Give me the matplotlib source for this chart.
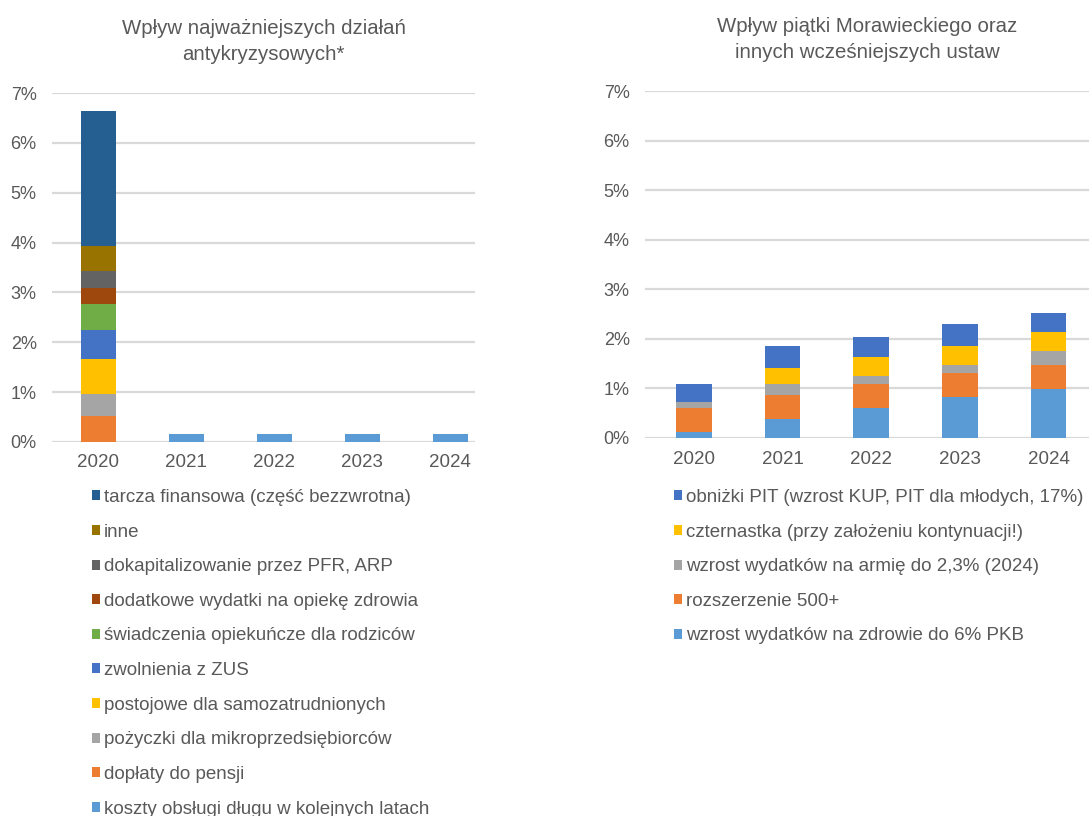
import matplotlib
matplotlib.use('Agg')
import matplotlib.pyplot as plt
from matplotlib.patches import Patch
import numpy as np

plt.rcParams['font.family'] = ['Liberation Sans', 'DejaVu Sans']

years = ['2020', '2021', '2022', '2023', '2024']

# left panel - stacked from bottom
left_labels = ['koszty obsługi długu w kolejnych latach',
               'dopłaty do pensji',
               'pożyczki dla mikroprzedsiębiorców',
               'postojowe dla samozatrudnionych',
               'zwolnienia z ZUS',
               'świadczenia opiekuńcze dla rodziców',
               'dodatkowe wydatki na opiekę zdrowia',
               'dokapitalizowanie przez PFR, ARP',
               'inne',
               'tarcza finansowa (część bezzwrotna)']
left_colors = ['#5B9BD5', '#ED7D31', '#A5A5A5', '#FFC000', '#4472C4',
               '#70AD47', '#9E480E', '#636363', '#997300', '#255E91']
koszty = [0.0, 0.17, 0.17, 0.17, 0.17]
doplaty = [0.52, 0, 0, 0, 0]
pozyczki = [0.44, 0, 0, 0, 0]
postojowe = [0.70, 0, 0, 0, 0]
zwolnienia = [0.58, 0, 0, 0, 0]
swiadczenia = [0.53, 0, 0, 0, 0]
zdrowie_opieka = [0.32, 0, 0, 0, 0]
dokapitalizowanie = [0.34, 0, 0, 0, 0]
inne = [0.51, 0, 0, 0, 0]
tarcza = [2.69, 0, 0, 0, 0]
left_series = [koszty, doplaty, pozyczki, postojowe, zwolnienia, swiadczenia,
               zdrowie_opieka, dokapitalizowanie, inne, tarcza]

# right panel - stacked from bottom
right_labels = ['wzrost wydatków na zdrowie do 6% PKB',
                'rozszerzenie 500+',
                'wzrost wydatków na armię do 2,3% (2024)',
                'czternastka (przy założeniu kontynuacji!)',
                'obniżki PIT (wzrost KUP, PIT dla młodych, 17%)']
right_colors = ['#5B9BD5', '#ED7D31', '#A5A5A5', '#FFC000', '#4472C4']
zdrowie_6 = [0.12, 0.39, 0.60, 0.83, 0.99]
r500 = [0.48, 0.48, 0.49, 0.49, 0.49]
armia = [0.12, 0.22, 0.17, 0.16, 0.27]
czternastka = [0.0, 0.33, 0.38, 0.38, 0.38]
pit = [0.37, 0.44, 0.39, 0.44, 0.39]
right_series = [zdrowie_6, r500, armia, czternastka, pit]

txt = '#595959'
grid = '#D9D9D9'
W, H = 1089, 816
fig = plt.figure(figsize=(W / 100, H / 100), dpi=100)


def panel(rect, series, labels, colors, xlim, title, leg_x):
    ax = fig.add_axes(rect)
    x = np.arange(len(years))
    bottom = np.zeros(len(years))
    handles = []
    for vals, lab, col in zip(series, labels, colors):
        v = np.array(vals) / 100.0
        ax.bar(x, v, 0.40, bottom=bottom, color=col, label=lab, zorder=3)
        bottom += v
        handles.append(Patch(facecolor=col, label=lab))
    ax.set_ylim(0, 0.07)
    ax.set_xlim(*xlim)
    ax.set_yticks(np.arange(0, 0.071, 0.01))
    ax.set_yticklabels(['%d%%' % i for i in range(8)])
    ax.set_xticks(x)
    ax.set_xticklabels(years)
    ax.yaxis.grid(True, color=grid, linewidth=1.6, zorder=0)
    ax.set_axisbelow(True)
    for s in ax.spines.values():
        s.set_visible(False)
    ax.tick_params(axis='both', length=0, colors=txt, labelsize=13)
    ax.tick_params(axis='x', labelsize=13.5, pad=9)
    ax.tick_params(axis='y', pad=11)
    ax.set_title(title, color=txt, fontsize=14.7, pad=23.5, linespacing=1.47)
    fig.legend(handles=handles[::-1], loc='upper left',
               bbox_to_anchor=(leg_x / W, 1 - 489 / H), frameon=False,
               fontsize=13.5, handlelength=0.45, handleheight=0.45,
               handletextpad=0.2, labelspacing=0.94, labelcolor=txt,
               borderaxespad=0, borderpad=0)
    return ax


panel([52 / W, 1 - 442 / H, 423 / W, 349 / H], left_series, left_labels,
      left_colors, (-0.525, 4.28),
      'Wpływ najważniejszych działań\nantykryzysowych*', 92)
panel([645 / W, 1 - 438 / H, 444 / W, 347 / H], right_series, right_labels,
      right_colors, (-0.55, 4.456),
      'Wpływ piątki Morawieckiego oraz\ninnych wcześniejszych ustaw', 674)

fig.savefig('out.png', dpi=100)
